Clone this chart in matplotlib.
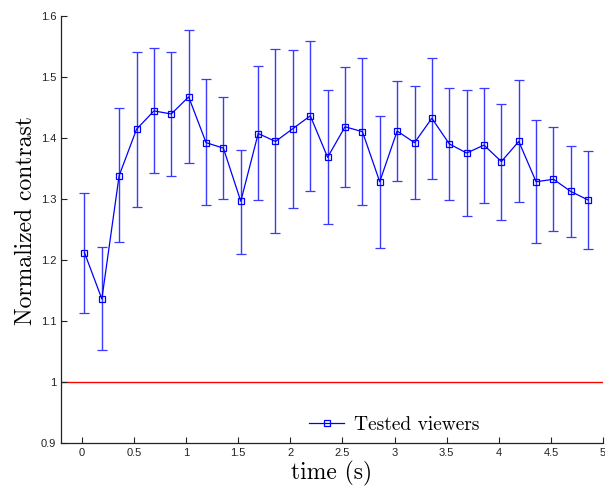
import matplotlib
matplotlib.use('Agg')
import matplotlib.pyplot as plt

# datos
tiempo = [0.025, 0.192, 0.358, 0.525, 0.692, 0.858, 1.025, 1.192, 1.358, 1.525,
          1.692, 1.858, 2.025, 2.192, 2.358, 2.525, 2.692, 2.858, 3.025, 3.192,
          3.358, 3.525, 3.692, 3.858, 4.025, 4.192, 4.358, 4.525, 4.692, 4.858]
contraste = [1.212, 1.136, 1.338, 1.414, 1.444, 1.439, 1.467, 1.392, 1.383, 1.296,
             1.407, 1.394, 1.415, 1.436, 1.368, 1.418, 1.410, 1.328, 1.411, 1.392,
             1.432, 1.390, 1.375, 1.388, 1.361, 1.394, 1.328, 1.332, 1.312, 1.298]
superior = [1.310, 1.221, 1.448, 1.541, 1.547, 1.541, 1.577, 1.496, 1.467, 1.380,
            1.517, 1.545, 1.543, 1.559, 1.478, 1.516, 1.531, 1.435, 1.493, 1.485,
            1.531, 1.482, 1.478, 1.482, 1.456, 1.495, 1.429, 1.417, 1.387, 1.379]
inferior = [1.113, 1.052, 1.230, 1.287, 1.343, 1.338, 1.358, 1.290, 1.299, 1.210,
            1.298, 1.244, 1.285, 1.313, 1.259, 1.320, 1.290, 1.219, 1.330, 1.299,
            1.332, 1.298, 1.272, 1.293, 1.266, 1.294, 1.227, 1.248, 1.237, 1.217]
referencia = 1.0
x_ticks = [0, 0.5, 1, 1.5, 2, 2.5, 3, 3.5, 4, 4.5, 5]
x_tick_labels = ['0', '0.5', '1', '1.5', '2', '2.5', '3', '3.5', '4', '4.5', '5']
y_ticks = [0.9, 1, 1.1, 1.2, 1.3, 1.4, 1.5, 1.6]
y_tick_labels = ['0.9', '1', '1.1', '1.2', '1.3', '1.4', '1.5', '1.6']

err_abajo = [c - i for c, i in zip(contraste, inferior)]
err_arriba = [s - c for c, s in zip(contraste, superior)]

fig = plt.figure(figsize=(6.05, 4.9), dpi=100)
ax = fig.add_axes([0.1008, 0.0959, 0.8959, 0.8721])

ax.axhline(referencia, color='#ff0000', lw=1.0, zorder=1)
barras = ax.errorbar(tiempo, contraste, yerr=[err_abajo, err_arriba],
                     color='#0000ff', ecolor='#3a3aff', elinewidth=1.0,
                     capsize=3.6, capthick=1.0, lw=0.9, marker='s',
                     markersize=5, markerfacecolor='none',
                     markeredgecolor='#0000ff', markeredgewidth=0.9,
                     zorder=3)

ax.set_xlim(-0.2, 5)
ax.set_ylim(0.9, 1.6)
ax.set_xticks(x_ticks)
ax.set_xticklabels(x_tick_labels, family='Liberation Sans', fontsize=8)
ax.set_yticks(y_ticks)
ax.set_yticklabels(y_tick_labels, family='Liberation Sans', fontsize=8)
ax.tick_params(direction='in', length=4, width=0.8, colors='#222222')

for lado in ['top', 'right']:
    ax.spines[lado].set_visible(False)
for lado in ['left', 'bottom']:
    ax.spines[lado].set_color('#222222')
    ax.spines[lado].set_linewidth(0.9)

ax.set_xlabel('time (s)', family='cmr10', fontsize=17, labelpad=2)
ax.set_ylabel('Normalized contrast', family='cmr10', fontsize=17)
ax.yaxis.set_label_coords(-0.045, 0.52)

# solo la linea con marcador en la leyenda, sin las barras
ax.legend(handles=[barras.lines[0]], labels=['Tested viewers'],
          loc='center left', bbox_to_anchor=(0.458, 0.042), frameon=False,
          prop={'family': 'cmr10', 'size': 14}, handlelength=1.8,
          handletextpad=0.5, borderpad=0, borderaxespad=0)

fig.savefig('out.png', dpi=100)
